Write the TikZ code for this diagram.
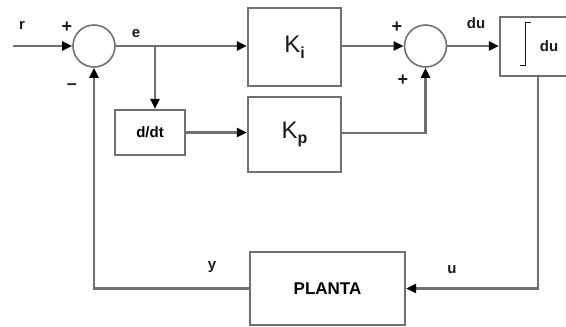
\documentclass[tikz,border=0pt]{standalone}
\usepackage{fontspec}
\setmainfont{Liberation Sans}
\usetikzlibrary{arrows.meta}
\definecolor{ln}{HTML}{707070}
\definecolor{tx}{HTML}{1A1A1A}
\begin{document}
\begin{tikzpicture}[x=1pt,y=-1pt,
  conn/.style={draw=ln, line width=2.2pt},
  arr/.style={conn, -{Triangle[length=10pt,width=9pt,color=black]}},
  blk/.style={draw=ln, line width=2.2pt, fill=white, inner sep=0pt, font=\bfseries\color{tx}},
  sumj/.style={circle, draw=ln, line width=1.6pt, minimum size=42pt, inner sep=0pt},
  lbl/.style={font=\fontsize{15}{15}\selectfont\bfseries, text=tx, inner sep=0pt}]
\useasboundingbox (0,0) rectangle (566,327);
% blocks
\node[blk, minimum width=93pt, minimum height=78pt] (Ki) at (294.5,47)
  {\fontsize{24}{24}\selectfont\mdseries K\raisebox{-6pt}{\fontsize{16}{16}\selectfont\bfseries i}};
\node[blk, minimum width=93pt, minimum height=75pt] (Kp) at (294.5,134.5)
  {\fontsize{24}{24}\selectfont\mdseries K\raisebox{-5pt}{\fontsize{16}{16}\selectfont\bfseries p}};
\node[blk, minimum width=70pt, minimum height=45pt, font=\fontsize{15}{15}\selectfont\bfseries] (ddt) at (150,132.5) {d/dt};
\node[blk, minimum width=76pt, minimum height=59pt] (int) at (538,46.5) {};
\node[blk, minimum width=155pt, minimum height=73pt, font=\fontsize{17}{17}\selectfont\bfseries] (plant) at (327.5,288.5) {PLANTA};
\node[sumj] (s1) at (94,46) {};
\node[sumj] (s2) at (425.5,46) {};
% integral content
\draw[tx, line width=1pt] (520,65) -- (525,65) -- (525,22) -- (531,22);
\node[lbl] (intdu) at (549,46) {du};
% connectors
\coordinate (rin) at (13,46);
\coordinate (br) at (155,46);
\draw[arr] (rin) -- (s1.west);
\draw[arr] (s1.east) -- (Ki.west |- s1.east);
\draw[arr] (br) -- (ddt.north -| br);
\draw[arr] (ddt.east) -- (Kp.west |- ddt.east);
\draw[arr] (Ki.east |- s2.west) -- (s2.west);
\draw[arr] (Kp.east |- 0,133) -| (s2.south);
\draw[arr] (s2.east) -- (int.west |- s2.east);
\draw[arr] (int.south) |- (plant.east);
\draw[arr] (plant.west) -| (s1.south);
% labels
\node[lbl] (lr) at (22,25) {r};
\node[lbl, font=\fontsize{18}{18}\selectfont\bfseries] (lp1) at (67,27) {+};
\node[lbl, font=\fontsize{18}{18}\selectfont\bfseries] (lm1) at (72,87) {–};
\node[lbl] (le) at (136,34) {e};
\node[lbl, font=\fontsize{18}{18}\selectfont\bfseries] (lp2) at (397,27) {+};
\node[lbl, font=\fontsize{18}{18}\selectfont\bfseries] (lp3) at (403,80) {+};
\node[lbl] (ldu) at (476,23) {du};
\node[lbl] (ly) at (212,267) {y};
\node[lbl] (lu) at (452,270) {u};
\end{tikzpicture}
\end{document}
